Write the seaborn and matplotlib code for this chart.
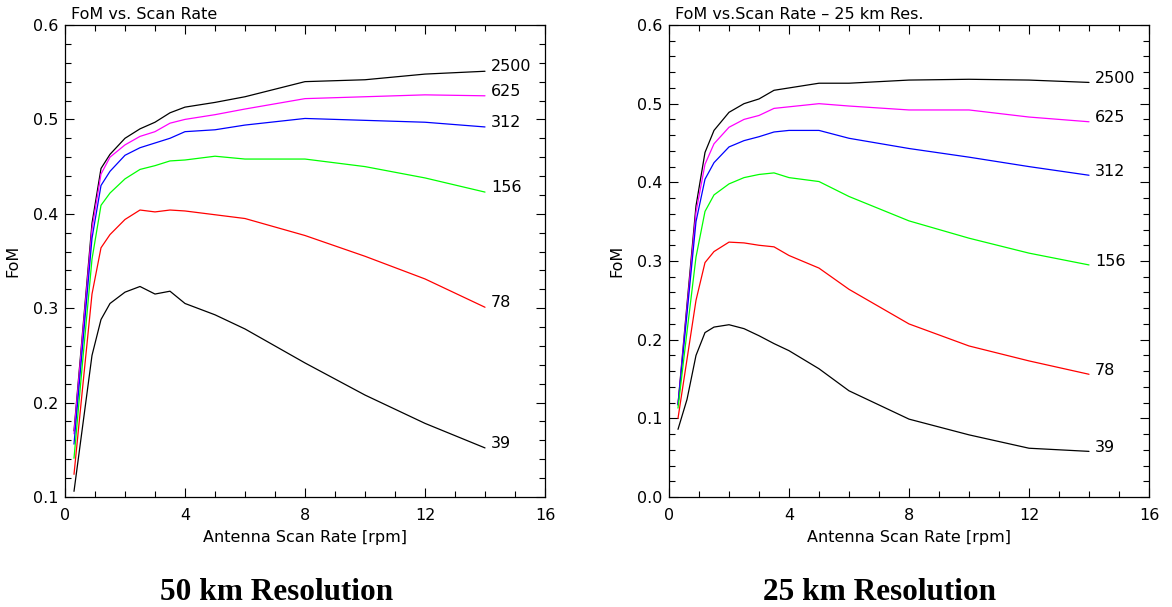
import matplotlib
matplotlib.use("Agg")
import matplotlib.pyplot as plt
from matplotlib.ticker import MultipleLocator, FormatStrFormatter
import pandas as pd
import seaborn as sns

# Antenna scan rates [rpm] at which FoM was evaluated
scan_rate = [0.3, 0.6, 0.9, 1.2, 1.5, 2.0, 2.5, 3.0, 3.5, 4.0, 5.0, 6.0, 8.0, 10.0, 12.0, 14.0]

series_names = ["2500", "625", "312", "156", "78", "39"]
series_colors = ["#000000", "#ff00ff", "#0000ff", "#00ff00", "#ff0000", "#000000"]

# 50 km resolution
fom50_2500 = [0.170, 0.280, 0.390, 0.448, 0.463, 0.480, 0.490, 0.497, 0.507, 0.513, 0.518, 0.524, 0.540, 0.542, 0.548, 0.551]
fom50_625 = [0.167, 0.276, 0.384, 0.442, 0.460, 0.473, 0.482, 0.487, 0.496, 0.500, 0.505, 0.511, 0.522, 0.524, 0.526, 0.525]
fom50_312 = [0.156, 0.265, 0.374, 0.430, 0.445, 0.462, 0.470, 0.475, 0.480, 0.487, 0.489, 0.494, 0.501, 0.499, 0.497, 0.492]
fom50_156 = [0.141, 0.248, 0.352, 0.409, 0.422, 0.437, 0.447, 0.451, 0.456, 0.457, 0.461, 0.458, 0.458, 0.450, 0.438, 0.423]
fom50_78 = [0.124, 0.220, 0.315, 0.364, 0.378, 0.394, 0.404, 0.402, 0.404, 0.403, 0.399, 0.395, 0.377, 0.355, 0.331, 0.301]
fom50_39 = [0.106, 0.178, 0.250, 0.288, 0.305, 0.317, 0.323, 0.315, 0.318, 0.305, 0.293, 0.278, 0.242, 0.208, 0.178, 0.152]

# 25 km resolution
fom25_2500 = [0.118, 0.245, 0.370, 0.438, 0.466, 0.489, 0.500, 0.506, 0.517, 0.520, 0.526, 0.526, 0.530, 0.531, 0.530, 0.527]
fom25_625 = [0.117, 0.240, 0.362, 0.423, 0.449, 0.470, 0.480, 0.485, 0.494, 0.496, 0.500, 0.497, 0.492, 0.492, 0.483, 0.477]
fom25_312 = [0.117, 0.233, 0.350, 0.404, 0.425, 0.445, 0.453, 0.458, 0.464, 0.466, 0.466, 0.456, 0.443, 0.432, 0.420, 0.409]
fom25_156 = [0.113, 0.210, 0.305, 0.363, 0.384, 0.398, 0.406, 0.410, 0.412, 0.406, 0.401, 0.382, 0.351, 0.329, 0.310, 0.295]
fom25_78 = [0.100, 0.175, 0.250, 0.298, 0.312, 0.324, 0.323, 0.320, 0.318, 0.307, 0.291, 0.264, 0.220, 0.192, 0.173, 0.156]
fom25_39 = [0.086, 0.124, 0.180, 0.209, 0.216, 0.219, 0.214, 0.205, 0.195, 0.186, 0.163, 0.135, 0.099, 0.079, 0.062, 0.058]

panel_titles = ["FoM vs. Scan Rate", "FoM vs.Scan Rate \u2013 25 km Res."]
panel_captions = ["50 km Resolution", "25 km Resolution"]
y_ranges = [(0.1, 0.6), (0.0, 0.6)]

sns.set_style("ticks")
plt.rcParams["font.family"] = ["DejaVu Sans"]
plt.rcParams.update({
    "text.color": "black",
    "axes.labelcolor": "black",
    "xtick.color": "black",
    "ytick.color": "black",
    "axes.edgecolor": "black",
})


def long_table(curves):
    rows = []
    for name, vals in zip(series_names, curves):
        for x, y in zip(scan_rate, vals):
            rows.append({"rate": x, "fom": y, "series": name})
    return pd.DataFrame(rows)


panels = [
    long_table([fom50_2500, fom50_625, fom50_312, fom50_156, fom50_78, fom50_39]),
    long_table([fom25_2500, fom25_625, fom25_312, fom25_156, fom25_78, fom25_39]),
]

W, H = 1172, 607
fig = plt.figure(figsize=(W / 100, H / 100), dpi=100)
axes_px = [(65, 25, 480, 472), (669, 25, 480, 472)]
caption_x = [277, 880]

palette = dict(zip(series_names, series_colors))

for i, df in enumerate(panels):
    l, t, w, h = axes_px[i]
    ax = fig.add_axes([l / W, (H - t - h) / H, w / W, h / H])
    for name in series_names:
        sub = df[df["series"] == name]
        sns.lineplot(data=sub, x="rate", y="fom", color=palette[name],
                     linewidth=0.9, sort=False, estimator=None, legend=False, ax=ax)
        last = sub.iloc[-1]
        ax.text(last["rate"] + 0.2, last["fom"] + 0.005, name, ha="left", va="center",
                fontsize=11.5, color="black")

    ax.set_xlim(0, 16)
    ax.set_ylim(*y_ranges[i])
    ax.xaxis.set_major_locator(MultipleLocator(4))
    ax.xaxis.set_minor_locator(MultipleLocator(1))
    ax.yaxis.set_major_locator(MultipleLocator(0.1))
    ax.yaxis.set_minor_locator(MultipleLocator(0.02))
    ax.yaxis.set_major_formatter(FormatStrFormatter("%.1f"))
    ax.xaxis.set_major_formatter(FormatStrFormatter("%d"))
    ax.tick_params(which="both", direction="in", top=True, right=True, width=0.8,
                   labelsize=11.5, color="black", labelcolor="black")
    ax.tick_params(which="major", length=6.5)
    ax.tick_params(which="minor", length=4)
    ax.tick_params(axis="x", which="major", pad=8)
    ax.tick_params(axis="y", which="major", pad=5)
    for sp in ax.spines.values():
        sp.set_linewidth(0.9)
        sp.set_color("black")
    ax.set_xlabel("Antenna Scan Rate [rpm]", fontsize=11.5, labelpad=5, color="black")
    ax.set_ylabel("FoM", fontsize=11.5, labelpad=9, color="black")
    ax.set_title(panel_titles[i], loc="left", x=6 / 480, pad=4, fontsize=11.5, color="black")

    fig.text(caption_x[i] / W, 1 - 592 / H, panel_captions[i], ha="center", va="center",
             fontsize=22.5, fontweight="bold", color="black",
             family=["Liberation Serif", "DejaVu Serif"])

fig.savefig("out.png", dpi=100, facecolor="white")
